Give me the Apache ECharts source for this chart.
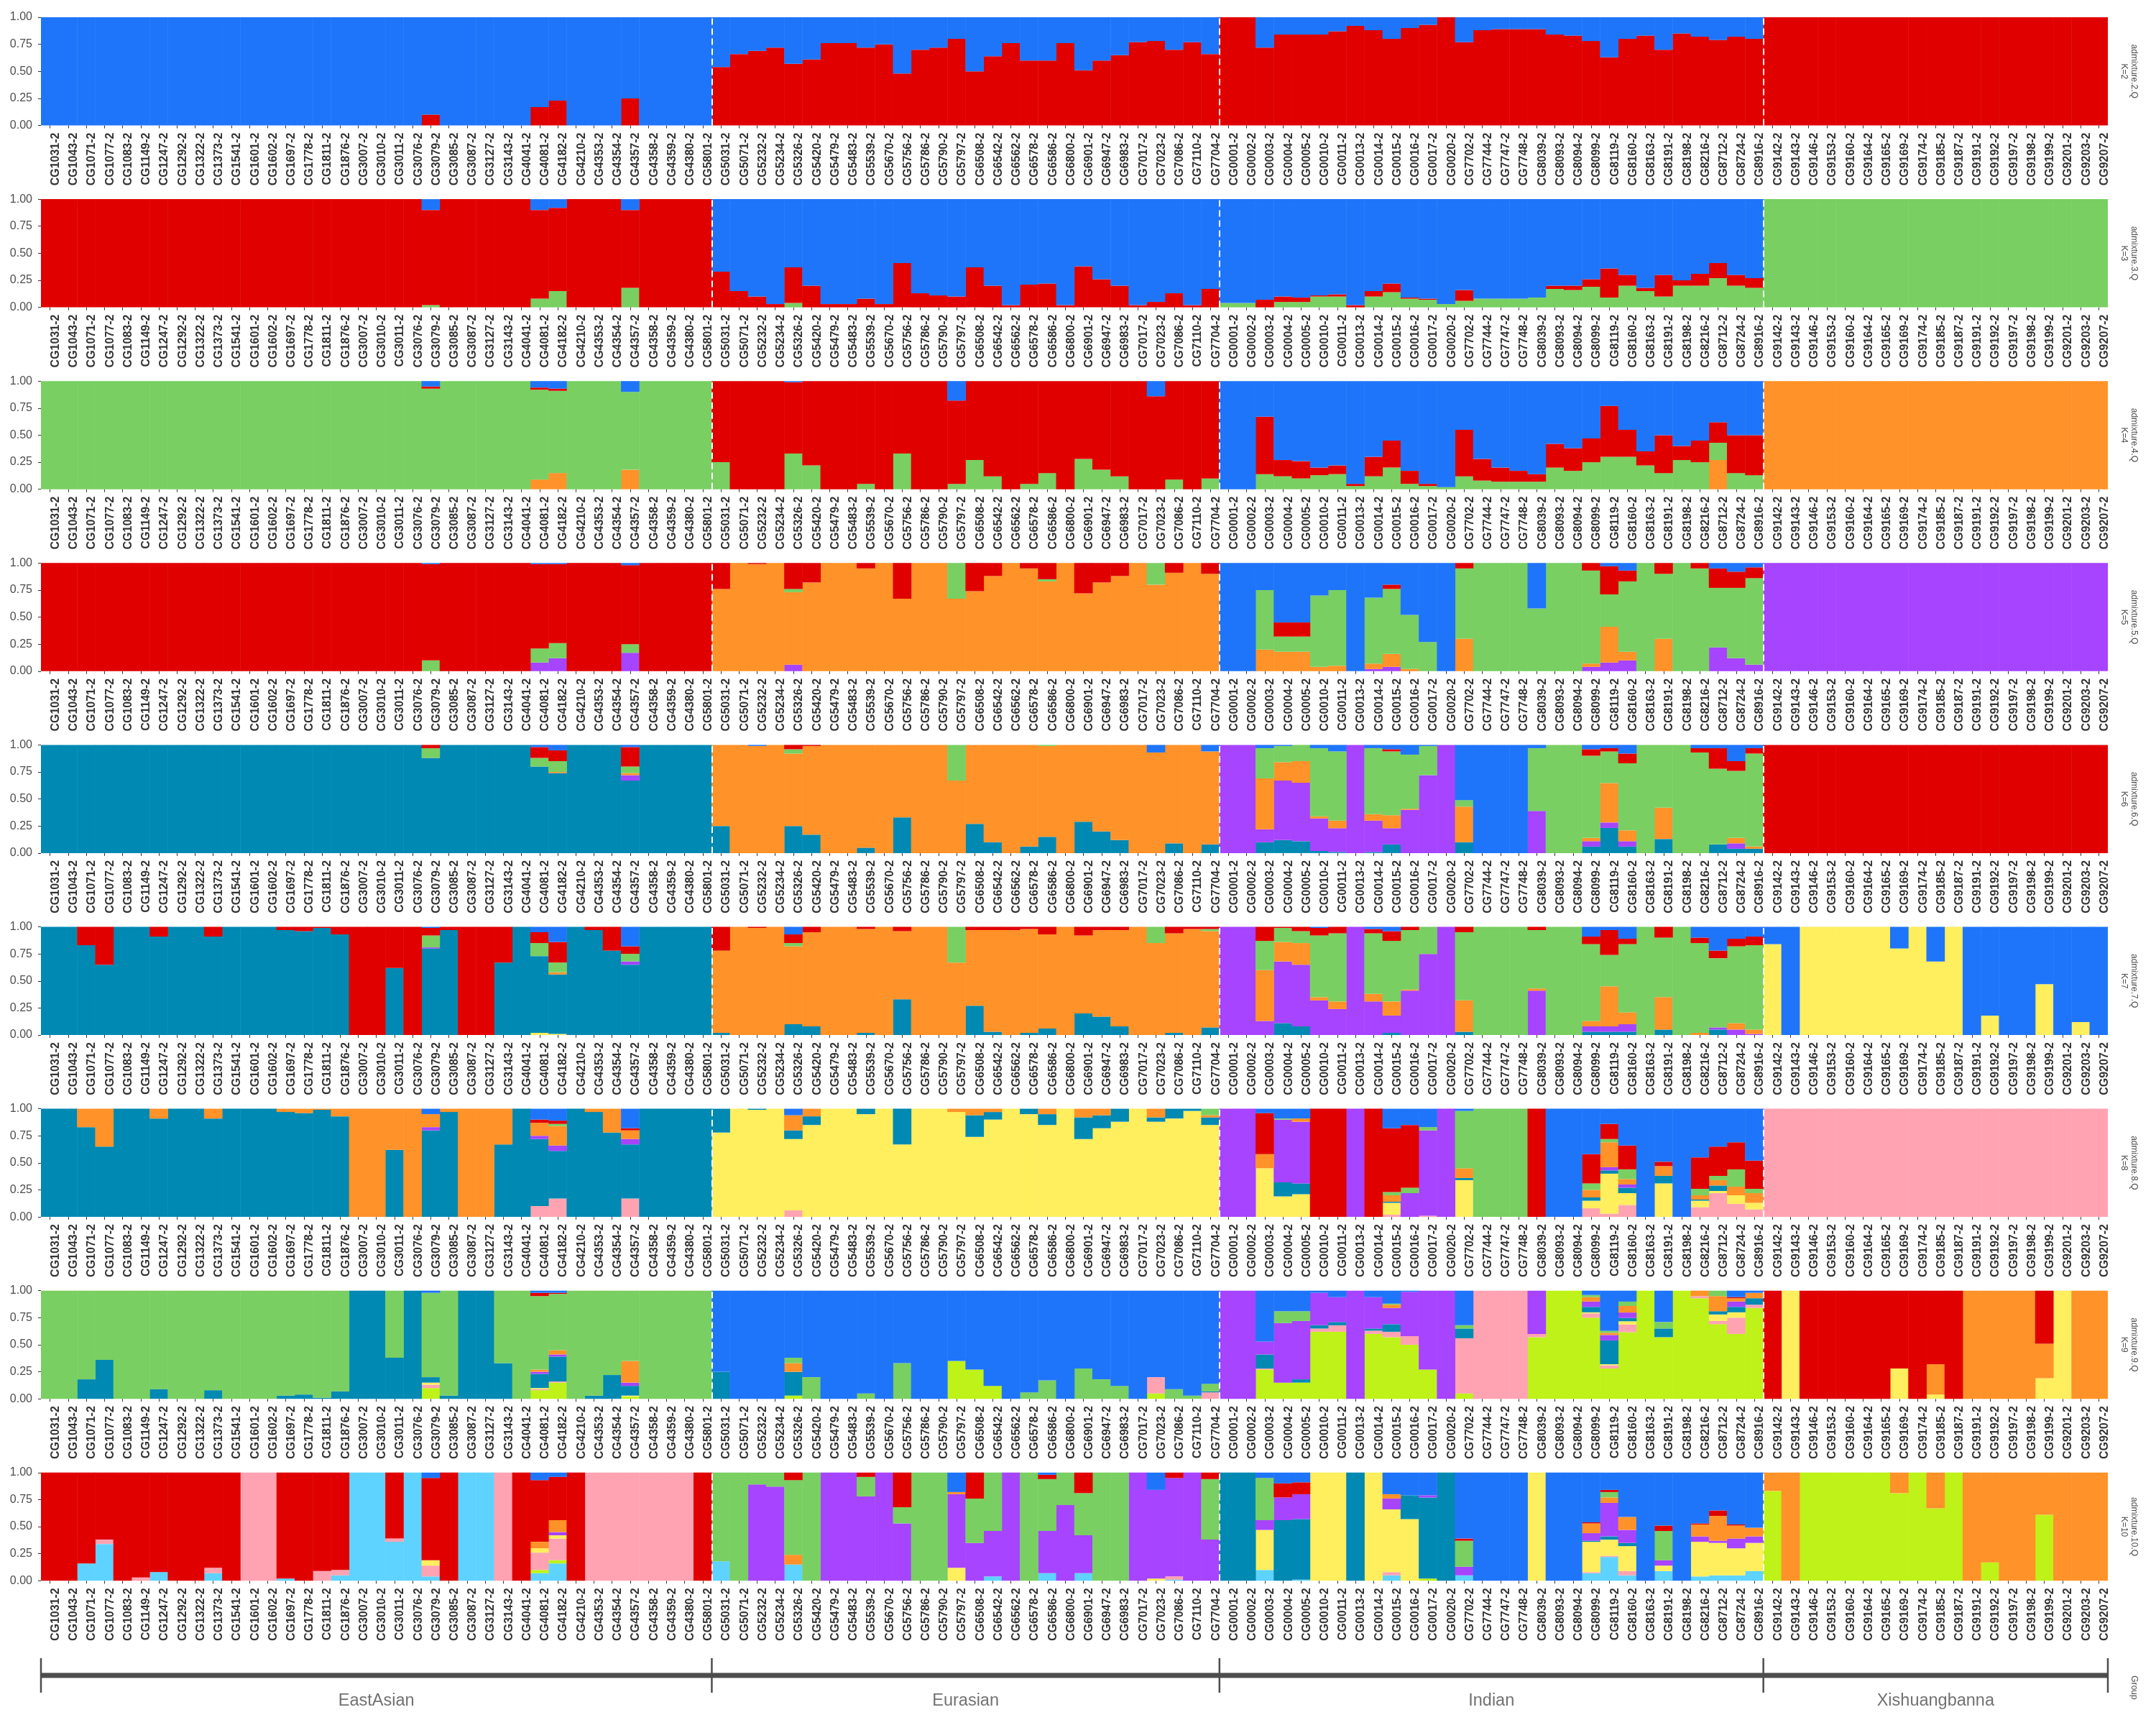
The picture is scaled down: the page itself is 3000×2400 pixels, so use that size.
<!DOCTYPE html>
<html><head><meta charset="utf-8"><style>html,body{margin:0;padding:0;background:#fff}#c{width:3000px;height:2400px}</style>
<script src="https://cdn.jsdelivr.net/npm/echarts@6/dist/echarts.min.js"></script></head><body><div id="c"></div>
<script>
// Sample names per group
const eastSamples=["CG1031-2","CG1043-2","CG1071-2","CG1077-2","CG1083-2","CG1149-2","CG1247-2","CG1292-2","CG1322-2","CG1373-2","CG1541-2","CG1601-2","CG1602-2","CG1697-2","CG1778-2","CG1811-2","CG1876-2","CG3007-2","CG3010-2","CG3011-2","CG3076-2","CG3079-2","CG3085-2","CG3087-2","CG3127-2","CG3143-2","CG4041-2","CG4081-2","CG4182-2","CG4210-2","CG4353-2","CG4354-2","CG4357-2","CG4358-2","CG4359-2","CG4380-2","CG5801-2"];
const euraSamples=["CG5031-2","CG5071-2","CG5232-2","CG5234-2","CG5326-2","CG5420-2","CG5479-2","CG5483-2","CG5539-2","CG5670-2","CG5756-2","CG5786-2","CG5790-2","CG5797-2","CG6508-2","CG6542-2","CG6562-2","CG6578-2","CG6586-2","CG6800-2","CG6901-2","CG6947-2","CG6983-2","CG7017-2","CG7023-2","CG7086-2","CG7110-2","CG7704-2"];
const indSamples=["CG0001-2","CG0002-2","CG0003-2","CG0004-2","CG0005-2","CG0010-2","CG0011-2","CG0013-2","CG0014-2","CG0015-2","CG0016-2","CG0017-2","CG0020-2","CG7702-2","CG7744-2","CG7747-2","CG7748-2","CG8039-2","CG8093-2","CG8094-2","CG8099-2","CG8119-2","CG8160-2","CG8163-2","CG8191-2","CG8198-2","CG8216-2","CG8712-2","CG8724-2","CG8916-2"];
const xishSamples=["CG9142-2","CG9143-2","CG9146-2","CG9153-2","CG9160-2","CG9164-2","CG9165-2","CG9169-2","CG9174-2","CG9185-2","CG9187-2","CG9191-2","CG9192-2","CG9197-2","CG9198-2","CG9199-2","CG9201-2","CG9203-2","CG9207-2"];
const groupNames=["EastAsian","Eurasian","Indian","Xishuangbanna"];
// Clusters, bottom of the stack first
const clusterKeys=["c","l","p","y","t","v","o","g","r","b"];
const clusterColors=["#5FD3FF","#BEF218","#FFA3B2","#FFEE5E","#0089B2","#A644FF","#FF9228","#79CF62","#E00000","#1F75F9"];
// Ancestry per sample: letter + percent; a bare letter is 100%
const k2East=["b","b","b","b","b","b","b","b","b","b","b","b","b","b","b","b","b","b","b","b","b","r10b90","b","b","b","b","b","r17b83","r23b77","b","b","b","r25b75","b","b","b","b"];
const k2Eura=["r54b46","r66b34","r69b31","r72b28","r57b43","r61b39","r76b24","r76b24","r72b28","r75b25","r48b52","r70b30","r72b28","r80b20","r50b50","r64b36","r76b24","r60b40","r60b40","r76b24","r51b49","r60b40","r65b35","r77b23","r78b22","r70b30","r77b23","r66b34"];
const k2Ind=["r","r","r72b28","r84b16","r84b16","r84b16","r87b13","r92b8","r88b12","r80b20","r90b10","r93b7","r","r77b23","r88b12","r89b11","r89b11","r89b11","r84b16","r83b17","r78b22","r63b37","r80b20","r83b17","r70b30","r85b15","r82b18","r79b21","r82b18","r80b20"];
const k2Xish=["r","r","r","r","r","r","r","r","r","r","r","r","r","r","r","r","r","r","r"];
const k3East=["r","r","r","r","r","r","r","r","r","r","r","r","r","r","r","r","r","r","r","r","r","g2r88b10","r","r","r","r","r","g8r82b10","g15r77b8","r","r","r","g18r72b10","r","r","r","r"];
const k3Eura=["r33b67","r15b85","r10b90","r3b97","g4r33b63","r20b80","r3b97","r3b97","r8b92","r3b97","r41b59","r13b87","r11b89","r10b90","r37b63","r20b80","r2b98","r21b79","r22b78","r2b98","r38b62","r26b74","r20b80","r2b98","r5b95","r13b87","r2b98","r17b83"];
const k3Ind=["g4b96","g4b96","r7b93","g5r5b90","g5r4b91","g10r1b89","g10r2b88","r2b98","g10r5b85","g14r8b78","g8r1b91","g7r1b92","g3b97","g6r10b84","g8b92","g8b92","g8b92","g9b91","g17r3b80","g16r4b80","g19r7b74","g9r27b64","g20r10b70","g15r3b82","g10r20b70","g20r5b75","g20r11b69","g27r14b59","g20r10b70","g18r9b73"];
const k3Xish=["g","g","g","g","g","g","g","g","g","g","g","g","g","g","g","g","g","g","g"];
const k4East=["g","g","g","g","g","g","g","g","g","g","g","g","g","g","g","g","g","g","g","g","g","g93r2b5","g","g","g","g","g","o9g83r2b6","o15g76r2b7","g","g","g","o18g72b10","g","g","g","g"];
const k4Eura=["g25r75","r","r","r","g33r66b1","g22r78","r","r","g5r95","r","g33r67","r","r","g5r77b18","g27r73","g12r88","r","g5r95","g15r85","r","g28r72","g18r82","g12r88","r","r86b14","g9r91","r","g10r90"];
const k4Ind=["b","b","g14r53b33","g12r15b73","g10r16b74","g13r7b80","g14r8b78","g3r2b95","g12r18b70","g20r25b55","g5r12b83","g3r2b95","g2b98","g12r43b45","g8r20b72","g7r13b80","g7r10b83","g7r7b86","g20r22b58","g17r21b62","g25r22b53","g30r47b23","g30r25b45","g22r13b65","g15r35b50","g27r13b60","g25r20b55","o27g16r19b38","g15r35b50","g13r37b50"];
const k4Xish=["o","o","o","o","o","o","o","o","o","o","o","o","o","o","o","o","o","o","o"];
const k5East=["r","r","r","r","r","r","r","r","r","r","r","r","r","r","r","r","r","r","r","r","r","g10r89b1","r","r","r","r","r","v8g13r78b1","v12g14r73b1","r","r","r","v17g8r73b2","r","r","r","r"];
const k5Eura=["o76r24","o","o99r1","o","v6o67g3r24","o82r18","o","o","o95r5","o","o67r33","o","o","o67g33","o74r26","o88r12","o","o95r5","o83g2r15","o","o72r28","o82r18","o88r12","o","o80g20","o91r9","o","o90r10"];
const k5Ind=["b","b","o20g55b25","o18g14r13b55","o18g14r13b55","o4g66b30","o5g70b25","b","v2o5g61b32","v4o12g60r4b20","o2g50b48","g27b73","b","o30g65r5","g","g","g","g58b42","g","g","v4o3g86r7","v8o33g30r26b3","v10o8g65r10b7","g","o30g60r10","g","g95r5","v22g55r18b5","v12g65r15b8","v6g80r10b4"];
const k5Xish=["v","v","v","v","v","v","v","v","v","v","v","v","v","v","v","v","v","v","v"];
const k6East=["t","t","t","t","t","t","t","t","t","t","t","t","t","t","t","t","t","t","t","t","t","t88g9r3","t","t","t","t","t","t80g8r10b2","t74o1g10r10b5","t","t","t","t67v5o2g6r18b2","t","t","t","t"];
const k6Eura=["t25o75","o","o99b1","o","t25o67g4r4","t17o82r1","o","o","t5o95","o","t33o67","o","o","o67g33","t27o73","t10o90","o","t6o94","t15o84g1","o","t29o71","t20o80","t12o88","o","o93b7","t9o91","o","t8o86b6"];
const k6Ind=["v","v","t10v12o47g28b3","t12v55o17g15b1","t11v54o20g15","t2v30o2g63b3","t1v22o7g64b6","v","t1v29o6g61b3","t8v15o12g59r2b4","v40o1g50b9","v72g27b1","v","t10o33g6b51","b","b","b","v39g58b3","g","g","t6v5o3g76r6b4","t23v5o36g29r3b3","t6v5o10g62r9b8","g","t13o29g58","g","g93r4b3","t8g70r19b3","t4v5o5g62r9b15","t4o2g86r5b3"];
const k6Xish=["r","r","r","r","r","r","r","r","r","r","r","r","r","r","r","r","r","r","r"];
const k7East=["t","t","t83r17","t65r35","t","t","t91r9","t","t","t91r9","t","t","t","t97r3","t96r4","t99r1","t93r7","r","r","t62r38","r","t80v1g11r7b1","t97r3","r","r","t67r33","t","y2t71g12r10b5","y1t55o2g9r19b14","t","t97r3","t78r22","t65v3g7r7b18","t","t","t","t"];
const k7Eura=["t2o76r22","o","o99r1","o","t10o72g3r8b7","t8o87r5","o","o","t2o96r2","o","t33o63r4","o","o","o67g33","t27o70r3","t3o94r3","o97r3","t2o96r2","t6o87r7","o","t20o72r8","t17o80r3","t8o89r3","o","o85g15","t2o92r6","o98r2","t7o89g2r2"];
const k7Ind=["v","v","v13o47g27r13","t11v57o18g13r1","t8v57o20g11r4","v32o3g57r7b1","v24o7g63r6","v","v31o7g56r4b2","t2v16o13g56r9b4","v41o1g55r3","v75g25","v","t3o29g63r5","g","g","g","v41o2g54r3","g","g","t3v5o5g71r7b9","t3v5o37g29r23b3","t3v7o11g63r5b11","g","t5o30g55r10","g","o2g83r5b10","t5v2g64r7b22","v5o6g71r7b11","v1o4g78r8b9"];
const k7Xish=["y84b16","b","y","y","y","y","y","y80b20","y","y68b32","y","b","y18b82","b","b","y47b53","b","y12b88","b"];
const k8East=["t","t","t83o17","t65o35","t","t","t91o9","t","t","t91o9","t","t","t","t97o3","t96o4","t99o1","t93o7","o","o","t62o38","o","t80v3o12b5","t97o3","o","o","t67o33","t","p10t62v3o12r3b10","p17t44v5o18g2r3b11","t","t97o3","t78o22","p17t50v5o8r2b18","t","t","t","t"];
const k8Eura=["y78t22","y","y99t1","y","p6y66t8o14b6","y85t8o7","y","y","y95t5","y","y67t33","y","y","y97o3","y74t20o6","y90t7o3","y","y95t5","y85t10o5","y","y72t20o8","y82t12o6","y88t12","y","y88t4o8","y91t9","y98t2","y85t7o2g6"];
const k8Ind=["v","v","y45o13r38b4","y19t13v58g1b9","y21t10v57o3b9","r","r","v","r","p2y11t1o6g3r59b18","v22g5r58b15","p1v79g3b17","v","y34t2o9g53b2","g","g","g","r","b","b","p8y7t3o7g6r27b42","p3y37t3v3o23g3r14b14","p11y11t5v3o5g9r22b34","b","y31t7o9r4b49","b","p9y6t1o4g6r29b45","p22y2t5o5g4r27b35","p12y8o8g16r25b31","p7y6o9g4r26b48"];
const k8Xish=["p","p","p","p","p","p","p","p","p","p","p","p","p","p","p","p","p","p","p"];
const k9East=["g","g","t18g82","t36g64","g","g","t9g91","g","g","t8g92","g","g","g","t3g97","t4g96","t1g99","t7g93","t","t","t38g62","t","l10p3y2t5g78b2","t3g97","t","t","t33g67","g","l8p1y1t13v2o2g68r3b2","l15p1t23v2o4g52r1b2","g","t3g97","t22g78","l2y1t9v3o20g65","g","g","g","g"];
const k9Eura=["t25b75","b","b","b","l3t22o8g5b62","g20b80","b","b","g5b95","b","g33b67","b","b","l35b65","l27b73","l12b88","b","g6b94","g17b83","b","g28b72","g18b82","g12b88","b","l5p15b80","g9b91","g3b97","p6t1g7b86"];
const k9Ind=["v","v","l27p1t13v12b47","l15v55g11b19","l15t3v54g9b19","l62p3t3v30b2","l62p6t3v23b6","v","l60p3t2v29b6","l57p5t7v15o3g1b12","l50p8v41b1","l27v73","v","l5p51t9g3b32","p","p","p","l57p3v40","l","l","l75p4y1t5v5o4g2b4","l28p3y1t22v5o2g2b37","l61p7y3t3v5o6g4b10","l","l57t8g6b29","l","l93p2o5","l69p3y6t3o14g5","l60p15y5t5v5o3r1b6","l84p3t6o5b2"];
const k9Xish=["r","y","r","r","r","r","r","y28r72","r","y4o28r68","r","o","o","o","o","y19o32r49","y","o","o"];
const k10East=["r","r","c16r84","c34p4r62","r","p3r97","c8r92","r","r","c7p5r88","r","p","p","c2r98","r","p9r91","c5p5r90","c","c","c36p3r61","c","c4p10y5r76b5","r","c","c","p","r","c7l3p16y4o6r57b7","c16l3p20y3v3o11r40b4","r","p","p","p","p","p","p","r"];
const k10Eura=["c18g82","g","v89g11","v87g13","c15o9g69r7","g","v","v","v78g18r4","v","v53g15r32","g","g","y12v68o2b18","v35g41r24","c4v42g54","v","g","c7v39g48r4b2","v70g30","c7v35g39r19","g","g","v","y2v82b16","c1p3v91r5","v","v38g56r6"];
const k10Ind=["t","t","c10y37v9g39b5","t56v21r13b10","c1t56v23r11b9","y","y","t","y","c5p3y58v10o4b20","y57t22b21","l2t75v2b21","t","c5v8g24r2b61","b","b","b","y","b","b","c7p1y28t1v7o9r1b46","c22p1y15t3v31o5g5r2b16","c5p4y23t3v12o12b41","b","c9y5v5g27r5b49","b","c4y32v5o11r1b47","c5y30v2o23r5b35","c5y25v9o12r1b48","c9y26v6o8b51"];
const k10Xish=["l83o17","o","l","l","l","l","l","l81o19","l","l67o33","l","o","l17o83","o","o","l61o39","o","o","o"];

const panels=[
 [2,k2East,k2Eura,k2Ind,k2Xish],[3,k3East,k3Eura,k3Ind,k3Xish],[4,k4East,k4Eura,k4Ind,k4Xish],
 [5,k5East,k5Eura,k5Ind,k5Xish],[6,k6East,k6Eura,k6Ind,k6Xish],[7,k7East,k7Eura,k7Ind,k7Xish],
 [8,k8East,k8Eura,k8Ind,k8Xish],[9,k9East,k9Eura,k9Ind,k9Xish],[10,k10East,k10Eura,k10Ind,k10Xish]];
const samples=[...eastSamples,...euraSamples,...indSamples,...xishSamples];
const sizes=[eastSamples.length,euraSamples.length,indSamples.length,xishSamples.length];
const bounds=[0];sizes.forEach(n=>bounds.push(bounds[bounds.length-1]+n));

const parse=s=>{const o={};let sum=0;for(const m of s.matchAll(/([a-z])([\d.]*)/g)){const v=m[2]===""?100:+m[2];o[m[1]]=v;sum+=v;}
 for(const k in o)o[k]/=sum;return o;};

const PL=57,PW=2876,PT=24,PSTEP=253.1,PH=150.5,FONT='"Liberation Sans"',GREY='#4d4d4d';
const grid=[],xAxis=[],yAxis=[],series=[],graphic=[];
panels.forEach((p,i)=>{
 const k=p[0],rows=[...p[1],...p[2],...p[3],...p[4]].map(parse),top=PT+PSTEP*i;
 grid.push({left:PL,width:PW,top:top,height:PH});
 xAxis.push({gridIndex:i,type:'category',data:samples,boundaryGap:true,axisLine:{show:false},
  axisTick:{show:true,alignWithLabel:true,interval:0,length:4,lineStyle:{color:'#333',width:1}},
  axisLabel:{interval:0,rotate:90,align:'right',verticalAlign:'top',margin:10,fontSize:16,fontWeight:'bold',color:'#333',fontFamily:FONT,hideOverlap:false},splitLine:{show:false}});
 xAxis.push({gridIndex:i,type:'value',min:0,max:samples.length,show:false,splitLine:{show:false}});
 yAxis.push({gridIndex:i,type:'value',min:0,max:1,interval:0.25,axisLine:{show:false},
  axisTick:{show:true,length:4,lineStyle:{color:'#333',width:1}},splitLine:{show:false},
  axisLabel:{margin:12,fontSize:16,color:GREY,fontFamily:FONT,formatter:v=>v.toFixed(2)}});
 clusterKeys.forEach((c,j)=>{
  const vals=rows.map(r=>r[c]||0);
  if(!vals.some(v=>v>0))return;
  series.push({type:'bar',name:'K'+k+c,xAxisIndex:i*2,yAxisIndex:i,stack:'K'+k,barWidth:25.7,
   data:vals,itemStyle:{color:clusterColors[j],borderWidth:0},silent:true});
 });
 series.push({type:'line',xAxisIndex:i*2+1,yAxisIndex:i,data:[[0,0]],showSymbol:false,lineStyle:{opacity:0},silent:true,z:5,
  markLine:{silent:true,symbol:'none',animation:false,label:{show:false},lineStyle:{color:'#fff',type:[9,5],width:2},
   data:bounds.slice(1,-1).map(b=>({xAxis:b}))}});
 graphic.push({type:'text',x:2962,y:top+PH/2,rotation:-Math.PI/2,silent:true,
  style:{text:'admixture.'+k+'.Q\nK='+k,align:'center',verticalAlign:'middle',fontSize:12,lineHeight:14,fill:GREY,fontFamily:FONT}});
});
// Group track
const gi=panels.length;
grid.push({left:PL,width:PW,top:2307,height:72});
xAxis.push({gridIndex:gi,type:'value',min:0,max:samples.length,show:false,splitLine:{show:false}});
yAxis.push({gridIndex:gi,type:'value',min:-0.5,max:1,show:false,splitLine:{show:false}});
const gx=xAxis.length-1;
series.push({type:'line',xAxisIndex:gx,yAxisIndex:gi,data:[[0,0.5],[samples.length,0.5]],showSymbol:false,silent:true,lineStyle:{color:'#4d4d4d',width:7,cap:'butt'}});
bounds.forEach(b=>series.push({type:'line',xAxisIndex:gx,yAxisIndex:gi,data:[[b,0],[b,1]],showSymbol:false,silent:true,lineStyle:{color:'#4d4d4d',width:2.5,cap:'butt'}}));
series.push({type:'scatter',xAxisIndex:gx,yAxisIndex:gi,symbolSize:1,itemStyle:{color:'transparent'},silent:true,
 data:groupNames.map((n,i)=>({name:n,value:[(bounds[i]+bounds[i+1])/2,-0.25]})),
 label:{show:true,position:'inside',formatter:'{b}',fontSize:23.5,color:GREY,fontFamily:FONT}});
graphic.push({type:'text',x:2969,y:2348,rotation:-Math.PI/2,silent:true,
 style:{text:'Group',align:'center',verticalAlign:'middle',fontSize:12,fill:GREY,fontFamily:FONT}});

const chart=echarts.init(document.getElementById('c'),null,{renderer:'canvas',width:3000,height:2400});
chart.setOption({animation:false,backgroundColor:'#fff',textStyle:{fontFamily:FONT},tooltip:{show:false},legend:{show:false},grid,xAxis,yAxis,series,graphic});
</script></body></html>
